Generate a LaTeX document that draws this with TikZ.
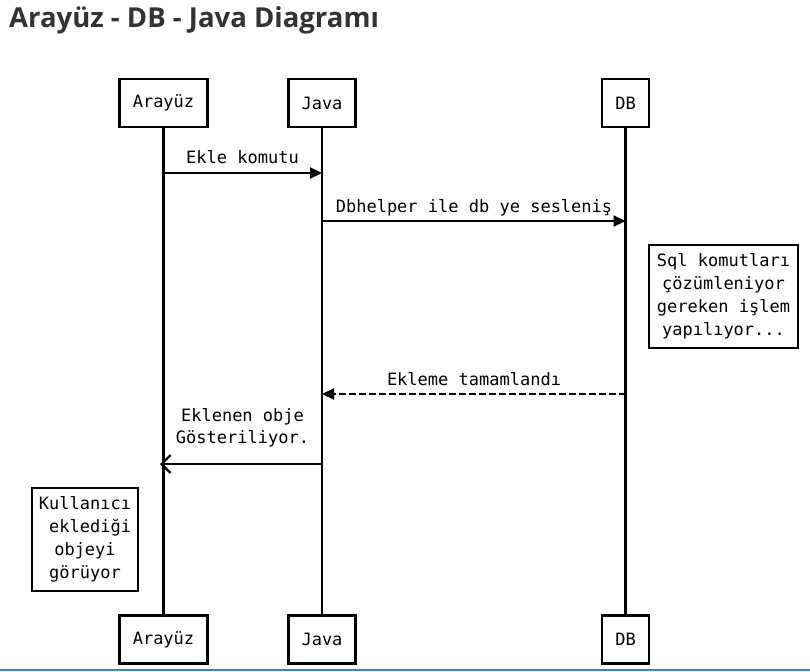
\documentclass[tikz,border=0pt]{standalone}
\usepackage{fontspec}
\setmainfont{DejaVu Sans Mono}
\newfontfamily\titlefont{Open Sans}
\usetikzlibrary{arrows.meta}
\definecolor{titlegray}{HTML}{333333}
\definecolor{bluebar}{HTML}{2B88D8}
\begin{document}
\begin{tikzpicture}[x=1pt,y=-1pt,
  actor/.style={draw=black,line width=2.5pt,fill=white,minimum height=48pt,inner sep=0pt,font=\fontsize{17}{23}\selectfont},
  notebox/.style={draw=black,line width=2.5pt,fill=white,align=center,inner sep=0pt,font=\fontsize{17}{23}\selectfont},
  lifeline/.style={line width=2.4pt,black},
  msg/.style={line width=2.2pt,-{Triangle[length=12pt,width=11pt]}},
  retmsg/.style={line width=2.2pt,dash pattern=on 7pt off 3pt,-{Triangle[length=12pt,width=11pt]}},
  openmsg/.style={line width=2.2pt,-{Straight Barb[length=9pt,width=18pt,line width=2.2pt]}},
  lbl/.style={font=\fontsize{17}{23}\selectfont,inner sep=0pt,align=center}
]
\useasboundingbox (0,0) rectangle (810,671);
\fill[white] (0,0) rectangle (810,671);
\fill[bluebar] (0,668.5) rectangle (810,671);

\node[anchor=base west,inner sep=0pt,text=titlegray,font=\titlefont\bfseries\fontsize{27.5}{31}\selectfont] (title) at (9,28) {Arayüz - DB - Java Diagramı};

% top actors
\node[actor,minimum width=88pt] (aT) at (163.5,103) {Arayüz};
\node[actor,minimum width=67pt] (jT) at (322,103) {Java};
\node[actor,minimum width=47pt] (dT) at (625.5,103) {DB};
% bottom actors
\node[actor,minimum width=88pt] (aB) at (163.5,639.5) {Arayüz};
\node[actor,minimum width=67pt] (jB) at (322,639.5) {Java};
\node[actor,minimum width=47pt] (dB) at (625.5,639.5) {DB};

% lifelines
\draw[lifeline] (aT.south) -- (aB.north);
\draw[lifeline] (jT.south) -- (jB.north);
\draw[lifeline] (dT.south) -- (dB.north);

% message points
\coordinate (m1a) at (163.5,173);
\coordinate (m1b) at (322,173);
\coordinate (m2a) at (322,221);
\coordinate (m2b) at (625.5,221);
\coordinate (m3a) at (625.5,394);
\coordinate (m3b) at (322,394);
\coordinate (m4a) at (322,464);
\coordinate (m4b) at (160,464);

\draw[msg] (m1a) -- (m1b);
\draw[msg] (m2a) -- (m2b);
\draw[retmsg] (m3a) -- (m3b);
\draw[openmsg] (m4a) -- (m4b);

\node[lbl,anchor=base] (l1) at (242.5,164) {Ekle komutu};
\node[lbl,anchor=base] (l2) at (474,212) {Dbhelper ile db ye sesleniş};
\node[lbl,anchor=base] (l3) at (474,385) {Ekleme tamamlandı};
\node[lbl,anchor=base] (l4a) at (242.5,421) {Eklenen obje};
\node[lbl,anchor=base] (l4b) at (242.5,443) {Gösteriliyor.};

% notes
\node[notebox,minimum width=149pt,minimum height=103pt] (note1) at (723.5,296.5) {Sql komutları\\çözümleniyor\\gereken işlem\\yapılıyor...};
\node[notebox,minimum width=106pt,minimum height=103pt] (note2) at (85,539.5) {Kullanıcı\\\hphantom{e}eklediği\\objeyi\\görüyor};
\end{tikzpicture}
\end{document}
